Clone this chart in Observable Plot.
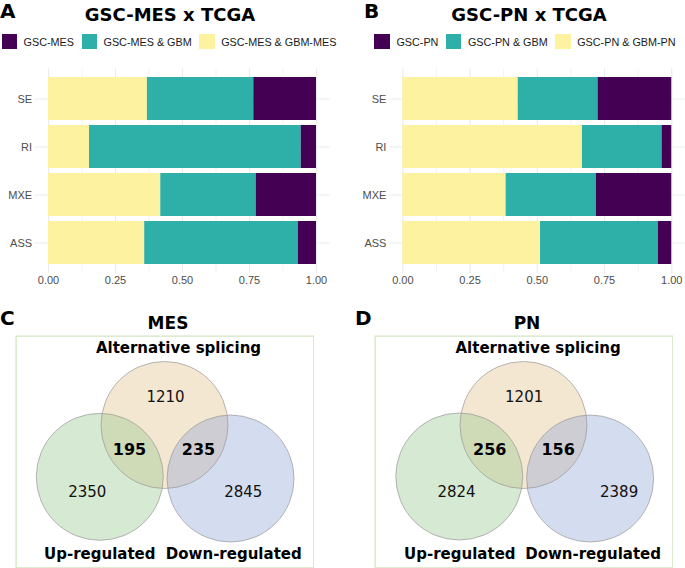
<!DOCTYPE html>
<html>
<head>
<meta charset="utf-8">
<script src="https://cdn.jsdelivr.net/npm/d3@7"></script>
<script src="https://cdn.jsdelivr.net/npm/@observablehq/plot@0.6"></script>
<style>
  body { margin: 0; background: #fff; }
  #root { position: relative; width: 685px; height: 568px; overflow: hidden; background: #fff; }
  .abs { position: absolute; }
  .letter { font-family: "DejaVu Sans", sans-serif; font-weight: bold; font-size: 20px; line-height: 20px; color: #000; }
  .title { font-family: "DejaVu Sans", sans-serif; font-weight: bold; font-size: 18px; line-height: 18px; color: #000; white-space: nowrap; transform: translateX(-50%); }
  .vtitle { font-family: "DejaVu Sans", sans-serif; font-weight: bold; font-size: 17px; line-height: 17px; color: #000; white-space: nowrap; transform: translateX(-50%); }
  .legend { display: flex; justify-content: center; align-items: center; height: 16px; font-family: "Liberation Sans", Arial, sans-serif; font-size: 10.8px; color: #1a1a1a; white-space: nowrap; }
  .legend .sw { width: 15.5px; height: 15.5px; margin-right: 6.5px; flex: none; }
  .legend .it { display: flex; align-items: center; margin-right: 7.5px; line-height: 16px; }
  .legend .it:last-child { margin-right: 0; }
</style>
</head>
<body>
<div id="root"></div>
<script>
// ---------- DATA ----------
const categories = ["SE", "RI", "MXE", "ASS"];

const mesGroups = ["GSC-MES", "GSC-MES & GBM", "GSC-MES & GBM-MES"];
const mesOnly      = [0.234, 0.057, 0.225, 0.068];
const mesGbm       = [0.397, 0.790, 0.356, 0.573];
const mesGbmMes    = [0.369, 0.153, 0.419, 0.359];

const pnGroups = ["GSC-PN", "GSC-PN & GBM", "GSC-PN & GBM-PN"];
const pnOnly       = [0.274, 0.036, 0.280, 0.050];
const pnGbm        = [0.297, 0.296, 0.336, 0.438];
const pnGbmPn      = [0.429, 0.668, 0.384, 0.512];

const xTicks = [0, 0.25, 0.5, 0.75, 1];
const xMinorTicks = [0.125, 0.375, 0.625, 0.875];

const vennSets = ["Alternative splicing", "Up-regulated", "Down-regulated"];
// regions: AS only, AS∩Up, AS∩Down, Up only, Down only
const mesCounts = [1210, 195, 235, 2350, 2845];
const pnCounts  = [1201, 256, 156, 2824, 2389];
const regionIsIntersection = [false, true, true, false, false];

// ---------- STYLE / LAYOUT ----------
const palette = ["#440154", "#2EAFA8", "#FDF2A0"];
const vennColors = ["#E1C18A", "#94C68A", "#8FA3D5"];

// venn geometry in circle-radius units (AS circle centred at 0,0)
const mesLayout = {
  circles: [[0, 0], [-1.019, -0.816], [1.040, -0.843]],
  labels: [[0.016, 0.433], [-0.551, -0.394], [0.535, -0.394], [-1.217, -1.058], [1.241, -1.058]],
  names: [[0.22, 1.205], [-1.019, -2.03], [1.091, -2.03]]
};
const pnLayout = {
  circles: [[0, 0], [-1.011, -0.811], [1.049, -0.843]],
  labels: [[0.010, 0.433], [-0.531, -0.394], [0.545, -0.394], [-1.055, -1.058], [1.506, -1.058]],
  names: [[0.23, 1.205], [-1.003, -2.03], [1.096, -2.03]]
};

const root = document.getElementById("root");
function place(el, left, top) {
  const d = document.createElement("div");
  d.className = "abs";
  d.style.left = left + "px";
  d.style.top = top + "px";
  d.appendChild(el);
  root.appendChild(d);
  return d;
}
function textDiv(cls, text, left, top) {
  const d = document.createElement("div");
  d.className = "abs " + cls;
  d.textContent = text;
  d.style.left = left + "px";
  d.style.top = top + "px";
  root.appendChild(d);
  return d;
}
function legendDiv(groups, left, width, top) {
  const d = document.createElement("div");
  d.className = "abs legend";
  d.style.left = left + "px";
  d.style.width = width + "px";
  d.style.top = top + "px";
  groups.forEach((g, i) => {
    const it = document.createElement("div");
    it.className = "it";
    const sw = document.createElement("div");
    sw.className = "sw";
    sw.style.background = palette[i];
    const t = document.createElement("span");
    t.textContent = g;
    it.appendChild(sw); it.appendChild(t);
    d.appendChild(it);
  });
  root.appendChild(d);
}

function barPlot(groups, series, width, ml, mr) {
  const rows = [];
  // stack left→right: last group first (yellow, teal, purple)
  [2, 1, 0].forEach(g => categories.forEach((c, i) => rows.push({cat: c, group: groups[g], value: series[g][i]})));
  return Plot.plot({
    width, height: 230,
    marginTop: 8.5, marginBottom: 17.1, marginLeft: ml, marginRight: mr,
    style: {fontFamily: "'Liberation Sans', Arial, sans-serif", fontSize: "11px", color: "#4D4D4D", background: "transparent"},
    x: {domain: [-0.05, 1.05], ticks: xTicks, tickFormat: d3.format(".2f"), tickSize: 0, tickPadding: 3, label: null},
    y: {domain: categories, paddingInner: 0.1, paddingOuter: 0.15, tickSize: 0, tickPadding: 3, label: null},
    color: {domain: groups, range: palette},
    marks: [
      Plot.ruleX(xMinorTicks, {stroke: "#EEEEEE", strokeWidth: 0.7}),
      Plot.ruleX(xTicks, {stroke: "#EBEBEB", strokeWidth: 1.1}),
      Plot.gridY({stroke: "#EBEBEB", strokeOpacity: 1, strokeWidth: 1.1}),
      Plot.barX(rows, Plot.stackX({y: "cat", x: "value", fill: "group", order: null}))
    ]
  });
}

function vennPlot(counts, layout) {
  const W = 299, H = 233, k = 63.5, cx = 149, cy = 89.5;
  const circ = vennSets.map((s, i) => ({set: s, x: layout.circles[i][0], y: layout.circles[i][1], r: 1}));
  const regs = counts.map((c, i) => ({count: c, inter: regionIsIntersection[i], x: layout.labels[i][0], y: layout.labels[i][1]}));
  const names = vennSets.map((s, i) => ({name: s, x: layout.names[i][0], y: layout.names[i][1]}));
  return Plot.plot({
    width: W, height: H, margin: 0,
    style: {fontFamily: "'DejaVu Sans', sans-serif", background: "transparent", color: "#000"},
    x: {domain: [-cx / k, (W - cx) / k], axis: null},
    y: {domain: [-(H - cy) / k, cy / k], axis: null},
    r: {type: "linear", domain: [0, 1], range: [0, k]},
    color: {domain: vennSets, range: vennColors},
    marks: [
      Plot.frame({stroke: "#CFE3BE", strokeWidth: 1.2, inset: 0.6}),
      Plot.dot(circ, {x: "x", y: "y", r: "r", fill: "set", fillOpacity: 0.38, stroke: null}),
      Plot.dot(circ, {x: "x", y: "y", r: "r", fill: "none", stroke: "#999999", strokeOpacity: 0.7, strokeWidth: 1}),
      Plot.text(regs.filter(d => !d.inter), {x: "x", y: "y", text: d => String(d.count), fontSize: 15, fill: "#111"}),
      Plot.text(regs.filter(d => d.inter), {x: "x", y: "y", text: d => String(d.count), fontSize: 16, fontWeight: "bold", fill: "#000"}),
      Plot.text(names, {x: "x", y: "y", text: "name", fontSize: 15, fontWeight: "bold", fill: "#000"})
    ]
  });
}

// ---------- PANEL A ----------
textDiv("letter", "A", 0, 1);
textDiv("title", "GSC-MES x TCGA", 170, 5.5);
legendDiv(mesGroups, 0, 338, 33.5);
place(barPlot(mesGroups, [mesOnly, mesGbm, mesGbmMes], 340, 34.6, 10.6), 0, 60);

// ---------- PANEL B ----------
textDiv("letter", "B", 364, 1);
textDiv("title", "GSC-PN x TCGA", 529, 5.5);
legendDiv(pnGroups, 365, 320, 33.5);
place(barPlot(pnGroups, [pnOnly, pnGbm, pnGbmPn], 345, 48.9, 0.3), 340, 60);

// ---------- PANEL C ----------
textDiv("letter", "C", 0, 308);
textDiv("vtitle", "MES", 168, 314.6);
place(vennPlot(mesCounts, mesLayout), 15, 335);

// ---------- PANEL D ----------
textDiv("letter", "D", 355, 308);
textDiv("vtitle", "PN", 527, 314.6);
place(vennPlot(pnCounts, pnLayout), 374, 335);
</script>
</body>
</html>
